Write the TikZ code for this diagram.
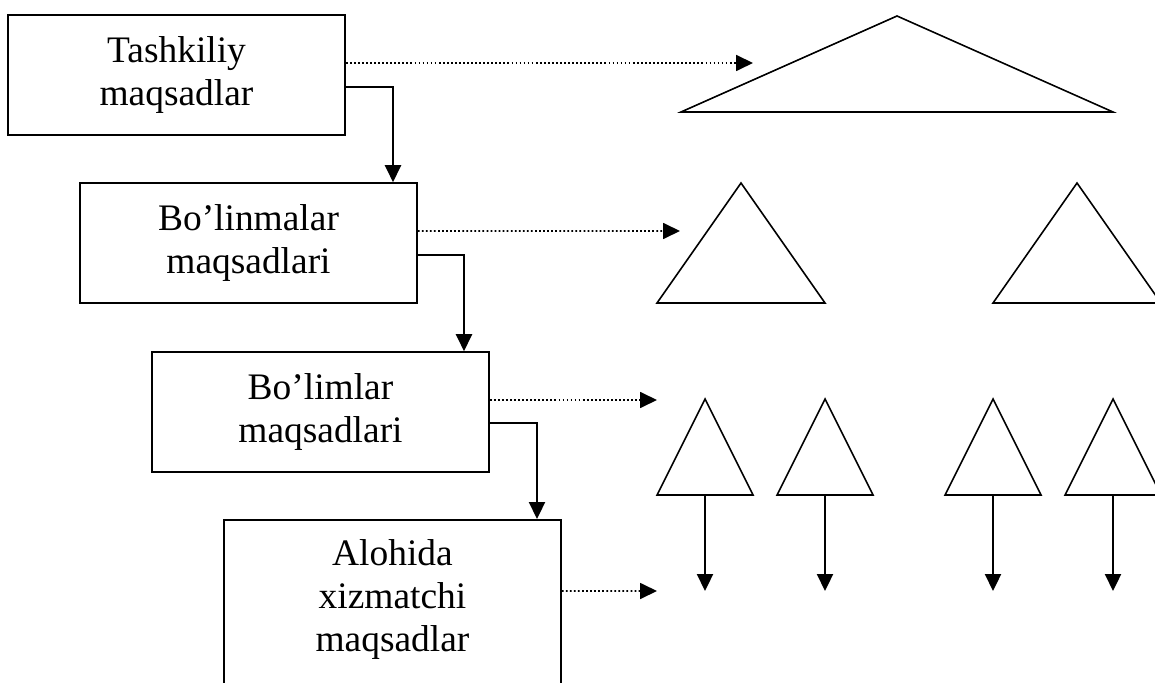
\documentclass[tikz,border=0pt]{standalone}
\usepackage{fontspec}
\setmainfont{Liberation Serif}
\usetikzlibrary{arrows.meta}

\begin{document}
\begin{tikzpicture}[
    blok/.style={draw=black,line width=0.9pt,minimum width=6.74cm,minimum height=2.4cm,
                 align=center,font=\fontsize{21.3}{24.4}\selectfont},
    strelka/.style={black,line width=1.3pt,-{Triangle[length=0.34cm,width=0.32cm]}},
    nuqta/.style={black,line width=1pt,dash pattern=on 1pt off 1.3pt,
                  -{Triangle[length=0.34cm,width=0.32cm]}},
    uchburchak/.style={black,line width=0.9pt}
]
                    \useasboundingbox (0,0) rectangle (23.1,-13.66);
                    \clip (0,0) rectangle (23.1,-13.66);

                    \node[blok] (tash) at (3.53,-1.5) {Tashkiliy\\maqsadlar};
                    \node[blok] (bolin) at (4.97,-4.86) {Bo’linmalar\\maqsadlari};
                    \node[blok] (bolim) at (6.41,-8.24) {Bo’limlar\\maqsadlari};
                    \node[blok,anchor=north,minimum height=0cm,inner ysep=0.4cm,text depth=3cm]
                        (aloh) at (7.85,-10.38) {Alohida\\xizmatchi\\maqsadlar};

                    \draw[strelka] ([yshift=-0.24cm]tash.east) -| ([xshift=2.89cm]bolin.north);
                    \draw[strelka] ([yshift=-0.24cm]bolin.east) -| ([xshift=2.87cm]bolim.north);
                    \draw[strelka] ([yshift=-0.22cm]bolim.east) -| ([xshift=2.89cm]aloh.north);

                    \coordinate (n1) at (15.06,-1.26);
                    \coordinate (n2) at (13.60,-4.62);
                    \coordinate (n3) at (13.14,-8.00);
                    \coordinate (n4) at (13.14,-11.82);
                    \draw[nuqta] ([yshift=0.24cm]tash.east) -- (n1);
                    \draw[nuqta] ([yshift=0.24cm]bolin.east) -- (n2);
                    \draw[nuqta] ([yshift=0.24cm]bolim.east) -- (n3);
                    \draw[nuqta] ([yshift=-1.44cm]aloh.north east) -- (n4);

                    \draw[uchburchak] (17.94,-0.32) -- (22.26,-2.24) -- (13.62,-2.24) -- cycle;
                    \draw[uchburchak] (14.82,-3.66) -- (16.50,-6.06) -- (13.14,-6.06) -- cycle;
                    \draw[uchburchak] (21.54,-3.66) -- (23.22,-6.06) -- (19.86,-6.06) -- cycle;

                    \draw[uchburchak] (14.10,-7.98) -- (15.06,-9.90) -- (13.14,-9.90) -- cycle;
                    \draw[uchburchak] (16.50,-7.98) -- (17.46,-9.90) -- (15.54,-9.90) -- cycle;
                    \draw[uchburchak] (19.86,-7.98) -- (20.82,-9.90) -- (18.90,-9.90) -- cycle;
                    \draw[uchburchak] (22.26,-7.98) -- (23.22,-9.90) -- (21.30,-9.90) -- cycle;

                    \coordinate (a1) at (14.10,-9.90);
                    \coordinate (a2) at (16.50,-9.90);
                    \coordinate (a3) at (19.86,-9.90);
                    \coordinate (a4) at (22.26,-9.90);
                    \coordinate (b1) at (14.10,-11.82);
                    \coordinate (b2) at (16.50,-11.82);
                    \coordinate (b3) at (19.86,-11.82);
                    \coordinate (b4) at (22.26,-11.82);
                    \draw[strelka] (a1) -- (b1);
                    \draw[strelka] (a2) -- (b2);
                    \draw[strelka] (a3) -- (b3);
                    \draw[strelka] (a4) -- (b4);
\end{tikzpicture}
\end{document}
